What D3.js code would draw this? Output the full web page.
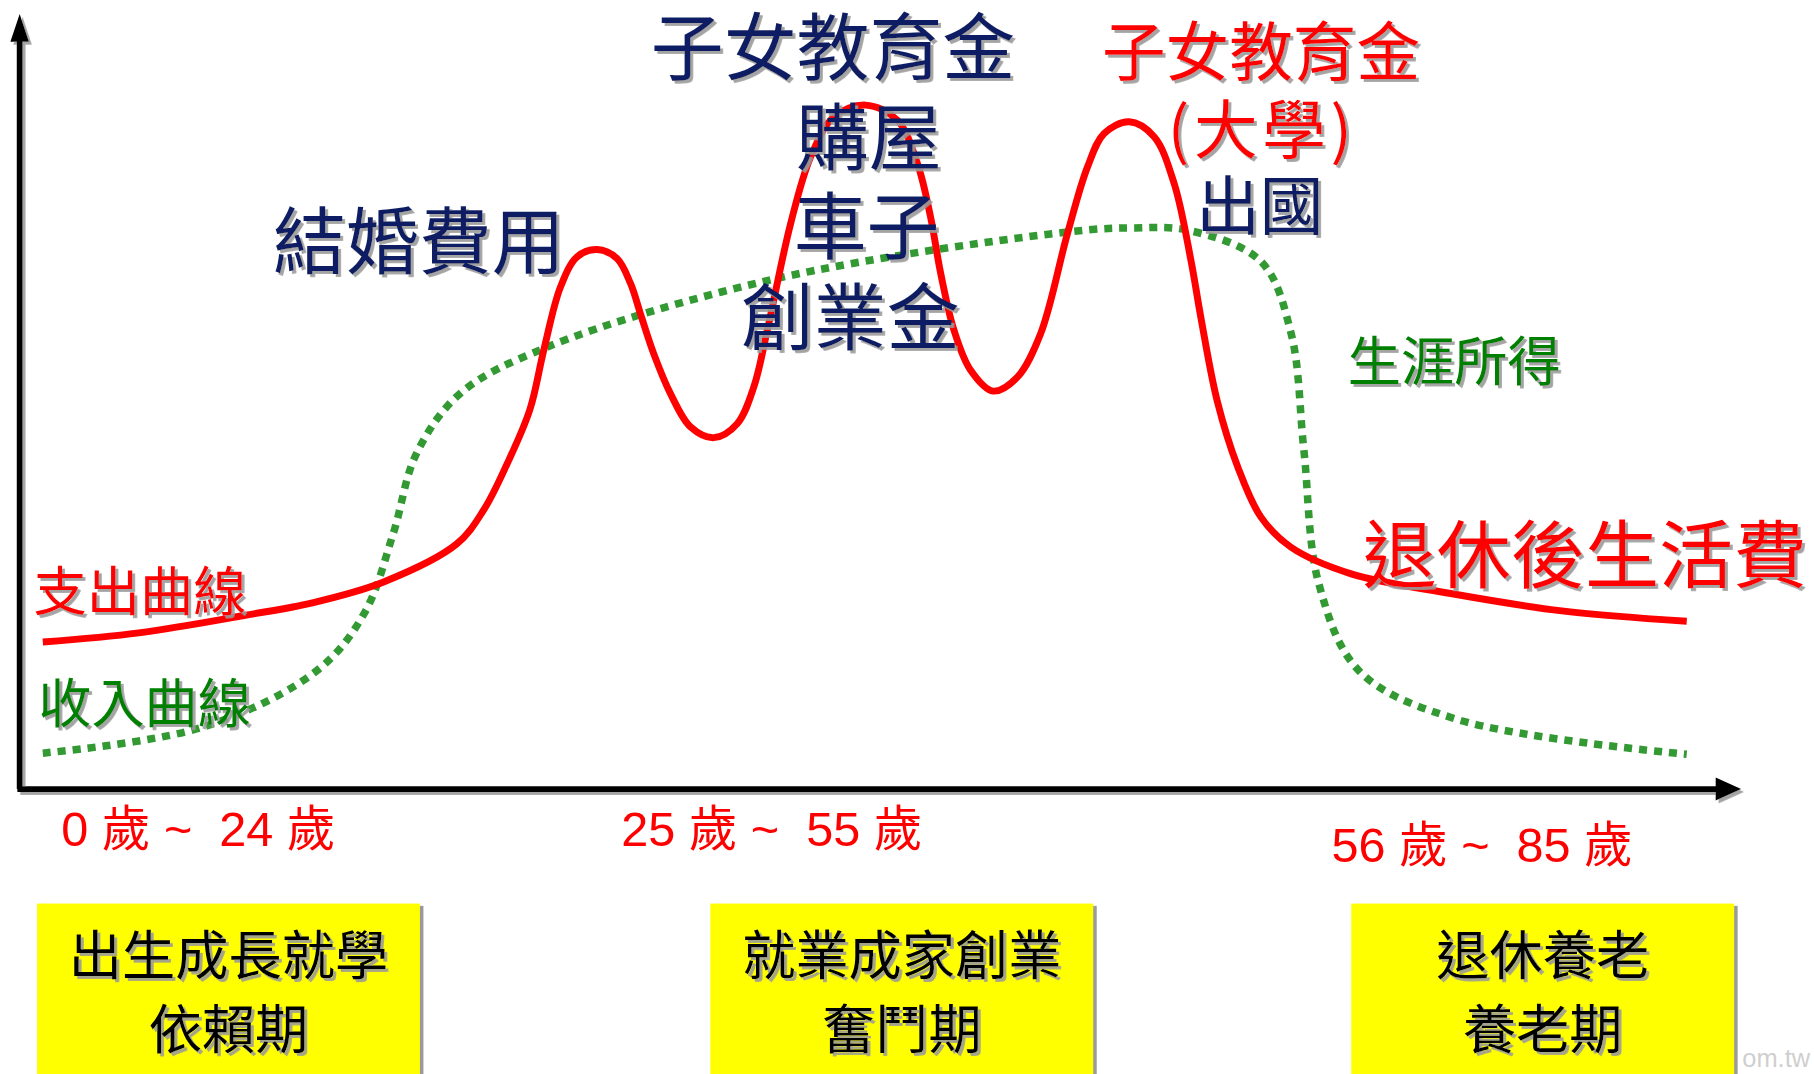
<!DOCTYPE html>
<html>
<head>
<meta charset="utf-8">
<script src="https://cdn.jsdelivr.net/npm/d3@7"></script>
<style>
  html, body { margin: 0; padding: 0; background: #fff; overflow: hidden; }
  svg { display: block; }
  text { font-family: "Noto Sans CJK TC", "Noto Sans CJK SC", sans-serif; }
</style>
</head>
<body>
<div id="app"></div>
<script>
'use strict'
// stage t (0-100 along the life span) and level (0-100, spending / income height)
const expenseT = [0, 5.84, 12.24, 16.4, 20.73, 25.19, 26.81, 28.24, 29.63, 30.47, 31.49, 32.5, 33.71, 34.93, 35.75, 36.35, 37.16, 38.18, 39.4, 40.82, 42.24, 43.25, 44.07, 45.49, 46.71, 48.12, 50.05, 51.98, 53.2, 54, 54.62, 55.43, 56.44, 57.81, 59.28, 60.7, 62.33, 63.55, 64.56, 66.08, 67.6, 68.82, 69.84, 70.44, 71.43, 72.7, 74.1, 75.93, 79.59, 85.64, 92.4, 100]
const expenseLv = [21.17, 22.5, 25, 26.83, 29.83, 35.33, 40.17, 46.83, 54.67, 63.2, 72.33, 76.67, 77.72, 76.42, 72.83, 68.5, 62.73, 56.97, 52.17, 50.62, 52.63, 57.92, 66.08, 81.47, 91.08, 96.83, 98.53, 96.37, 90.12, 82.43, 74.27, 66.08, 60.33, 57.33, 59.33, 65.62, 80.03, 89.63, 94.45, 96.12, 93.97, 87.23, 76.17, 68, 56, 46.33, 39.17, 34.83, 31, 28.17, 25.67, 24.17]
const incomeT = [0, 9.71, 16.68, 19.56, 21.32, 22.73, 25.4, 30.68, 44.69, 62.91, 66.36, 69.67, 74.1, 75.93, 76.71, 77.62, 80.08, 86.07, 100]
const incomeLv = [5.17, 8.9, 17.07, 25.33, 36.83, 48.33, 57, 63.67, 73.57, 80.4, 80.83, 80.5, 76, 65.67, 48.83, 29.57, 17, 10, 5]

const ageRanges = ['0 歲 ~  24 歲', '25 歲 ~  55 歲', '56 歲 ~  85 歲']
const stageNames = ['出生成長就學', '就業成家創業', '退休養老']
const stagePeriods = ['依賴期', '奮鬥期', '養老期']
const midCosts = ['子女教育金', '購屋', '車子', '創業金']
const lateCosts = ['子女教育金', '(大學)']

const W = 1568, H = 928.3
const navy = '#0d1f63'
const red = '#ff0000'

const svg = d3.select('#app').append('svg')
  .attr('width', 1814)
  .attr('height', 1074)
  .attr('viewBox', `0 0 ${W} ${H}`)

const defs = svg.append('defs')
defs.append('filter').attr('id', 'shadow')
  .attr('x', '-5%').attr('y', '-5%').attr('width', '115%').attr('height', '120%')
  .append('feDropShadow')
  .attr('dx', 2.5).attr('dy', 2.5).attr('stdDeviation', 0.6)
  .attr('flood-color', '#9a9a9a').attr('flood-opacity', 0.9)

const x = d3.scaleLinear().domain([0, 100]).range([37, 1458])
const y = d3.scaleLinear().domain([0, 100]).range([682, 82])

// axes with arrowheads
const axisG = svg.append('g').attr('filter', 'url(#shadow)')
axisG.append('line')
  .attr('x1', 17).attr('y1', y(0)).attr('x2', 17).attr('y2', 30)
  .attr('stroke', '#000').attr('stroke-width', 5)
axisG.append('path')
  .attr('d', 'M17,12 L9,36 L25,36 Z').attr('fill', '#000')
axisG.append('line')
  .attr('x1', 15).attr('y1', y(0)).attr('x2', 1487).attr('y2', y(0))
  .attr('stroke', '#000').attr('stroke-width', 5)
axisG.append('path')
  .attr('d', `M1505,${y(0)} L1483,${y(0) - 10} L1483,${y(0) + 10} Z`).attr('fill', '#000')

// curves
const line = d3.line()
  .x(d => x(d[0]))
  .y(d => y(d[1]))
  .curve(d3.curveCatmullRom.alpha(0.5))

const income = d3.zip(incomeT, incomeLv)
const expense = d3.zip(expenseT, expenseLv)

svg.append('path')
  .datum(income)
  .attr('d', line)
  .attr('fill', 'none')
  .attr('stroke', '#339933')
  .attr('stroke-width', 6.5)
  .attr('stroke-dasharray', '7 6')

svg.append('path')
  .datum(expense)
  .attr('d', line)
  .attr('fill', 'none')
  .attr('stroke', red)
  .attr('stroke-width', 6)

// annotations
const txt = svg.append('g').attr('filter', 'url(#shadow)')

function label (s, px, py, size, color, spacing) {
  txt.append('text')
    .attr('x', px).attr('y', py)
    .attr('font-size', size)
    .attr('fill', color)
    .attr('text-anchor', 'middle')
    .attr('letter-spacing', spacing || 0)
    .text(s)
}

const midY = [64, 142, 219, 297]
const midX = [720, 751, 749, 735]
midCosts.forEach((s, i) => label(s, midX[i], midY[i], 63, navy))

label('結婚費用', 362, 232, 63, navy)
label(lateCosts[0], 1090, 65, 55, red)
label(lateCosts[1], 1091, 132, 55, red, 4)
label('出國', 1089, 198, 55, navy)
label('生涯所得', 1257, 329, 46, '#008000')
label('退休後生活費', 1370, 503, 64, red)
label('支出曲線', 121, 528, 46, red)
label('收入曲線', 125, 625, 46, '#008000')

// age ranges
const ageX = [53, 537, 1151]
const ageY = [731, 731, 745]
svg.append('g').selectAll('text')
  .data(ageRanges)
  .join('text')
  .attr('x', (d, i) => ageX[i])
  .attr('y', (d, i) => ageY[i])
  .attr('font-size', 42)
  .attr('fill', red)
  .style('font-family', '"Liberation Sans", "Noto Sans CJK TC", sans-serif')
  .style('white-space', 'pre')
  .attr('xml:space', 'preserve')
  .text(d => d)

// stage boxes
const boxX = [32, 614, 1168]
const boxW = 331
const boxes = svg.append('g').selectAll('g')
  .data(stageNames)
  .join('g')
  .attr('transform', (d, i) => `translate(${boxX[i]},781)`)

boxes.append('rect')
  .attr('x', 3).attr('y', 2).attr('width', boxW).attr('height', 200)
  .attr('fill', '#9a9a9a')
boxes.append('rect')
  .attr('width', boxW).attr('height', 200)
  .attr('fill', '#ffff00')
boxes.append('text')
  .attr('x', boxW / 2).attr('y', 62)
  .attr('text-anchor', 'middle')
  .attr('font-size', 46)
  .attr('fill', '#000')
  .attr('filter', 'url(#shadow)')
  .text(d => d)
boxes.append('text')
  .attr('x', boxW / 2).attr('y', 126)
  .attr('text-anchor', 'middle')
  .attr('font-size', 46)
  .attr('fill', '#000')
  .attr('filter', 'url(#shadow)')
  .text((d, i) => stagePeriods[i])

// faint watermark fragment
svg.append('text')
  .attr('x', 1506).attr('y', 922)
  .attr('font-size', 22)
  .attr('fill', '#cfcfcf')
  .style('font-family', '"Liberation Sans", sans-serif')
  .text('om.tw')
</script>
</body>
</html>
